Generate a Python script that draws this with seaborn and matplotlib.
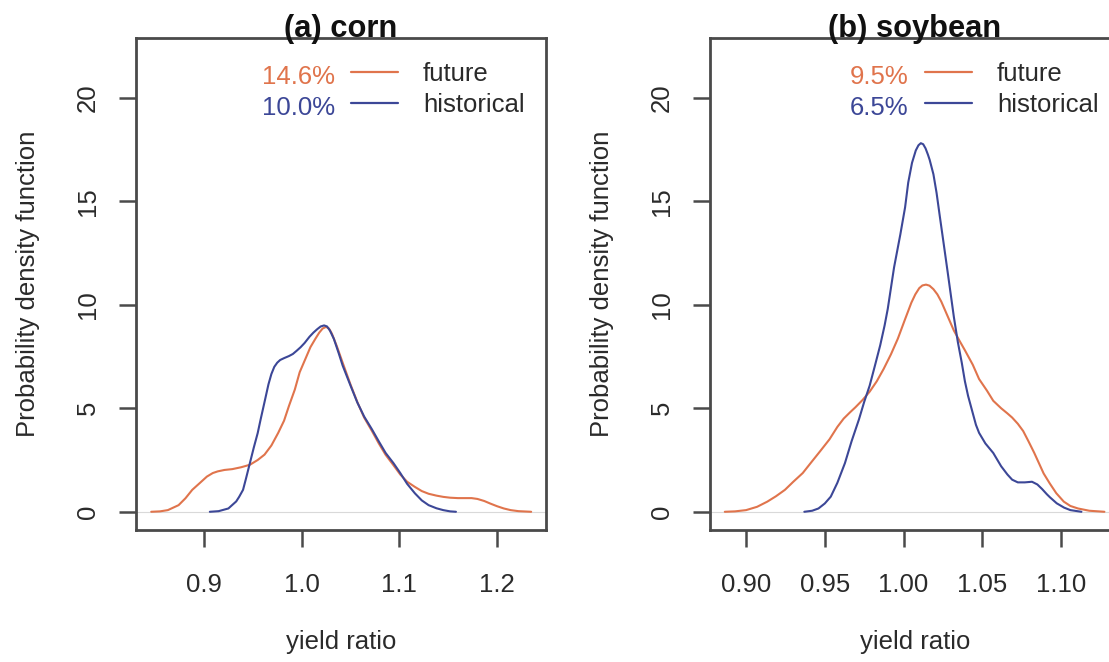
import numpy as np
import pandas as pd
import matplotlib
matplotlib.use("Agg")
import matplotlib.pyplot as plt
from matplotlib.lines import Line2D
import seaborn as sns

# ---------------- data ----------------
titles = ["(a) corn", "(b) soybean"]
series_names = ["future", "historical"]
pct_corn = ["14.6%", "10.0%"]
pct_soy = ["9.5%", "6.5%"]

corn_fut_x = [0.846, 0.855, 0.863, 0.874, 0.881, 0.888, 0.896, 0.903, 0.909, 0.914, 0.921, 0.929,
              0.938, 0.947, 0.955, 0.962, 0.969, 0.976, 0.982, 0.987, 0.993, 0.998, 1.004, 1.009,
              1.014, 1.018, 1.0215, 1.025, 1.028, 1.031, 1.036, 1.042, 1.050, 1.057, 1.064, 1.072,
              1.079, 1.086, 1.094, 1.101, 1.108, 1.116, 1.123, 1.130, 1.138, 1.145, 1.152, 1.160,
              1.167, 1.174, 1.180, 1.187, 1.193, 1.200, 1.207, 1.214, 1.222, 1.235]
corn_fut_y = [0.0, 0.02, 0.08, 0.32, 0.65, 1.06, 1.4, 1.7, 1.87, 1.95, 2.02, 2.06,
              2.15, 2.27, 2.5, 2.76, 3.2, 3.81, 4.4, 5.11, 5.9, 6.74, 7.4, 7.95,
              8.35, 8.65, 8.85, 8.93, 8.85, 8.6, 8.0, 7.2, 6.15, 5.3, 4.55, 3.9,
              3.3, 2.75, 2.25, 1.8, 1.45, 1.2, 1.0, 0.87, 0.78, 0.72, 0.68, 0.66,
              0.66, 0.66, 0.62, 0.52, 0.4, 0.27, 0.16, 0.08, 0.03, 0.0]

corn_hist_x = [0.906, 0.915, 0.925, 0.933, 0.936, 0.940, 0.943, 0.947, 0.951, 0.955, 0.958, 0.962,
               0.966, 0.969, 0.972, 0.975, 0.978, 0.982, 0.987, 0.991, 0.995, 0.999, 1.003, 1.008,
               1.012, 1.016, 1.0195, 1.023, 1.026, 1.029, 1.033, 1.038, 1.042, 1.050, 1.057, 1.064,
               1.072, 1.079, 1.086, 1.094, 1.101, 1.108, 1.116, 1.123, 1.130, 1.138, 1.145, 1.152,
               1.158]
corn_hist_y = [0.0, 0.03, 0.16, 0.5, 0.72, 1.06, 1.6, 2.35, 3.1, 3.8, 4.46, 5.3,
               6.15, 6.65, 7.0, 7.2, 7.33, 7.42, 7.52, 7.62, 7.78, 7.95, 8.15, 8.45,
               8.65, 8.82, 8.95, 9.0, 8.95, 8.75, 8.35, 7.65, 7.06, 6.1, 5.28, 4.6,
               3.98, 3.4, 2.84, 2.35, 1.87, 1.35, 0.89, 0.55, 0.32, 0.17, 0.08, 0.02,
               0.0]

soy_fut_x = [0.8865, 0.893, 0.900, 0.907, 0.9135, 0.919, 0.9247, 0.930, 0.936, 0.941, 0.947, 0.953,
             0.958, 0.962, 0.966, 0.9695, 0.974, 0.9785, 0.983, 0.9874, 0.992, 0.9964, 1.001, 1.005,
             1.0075, 1.010, 1.012, 1.0143, 1.0165, 1.019, 1.0215, 1.024, 1.026, 1.028, 1.030, 1.032,
             1.036, 1.039, 1.044, 1.048, 1.053, 1.057, 1.062, 1.066, 1.069, 1.0726, 1.076, 1.0794,
             1.083, 1.086, 1.089, 1.0928, 1.097, 1.1018, 1.106, 1.1108, 1.118, 1.1276]
soy_fut_y = [0.0, 0.02, 0.08, 0.24, 0.49, 0.75, 1.06, 1.45, 1.87, 2.35, 2.92, 3.5,
             4.1, 4.5, 4.8, 5.05, 5.4, 5.8, 6.3, 6.9, 7.6, 8.36, 9.3, 10.1,
             10.5, 10.8, 10.93, 10.97, 10.92, 10.75, 10.5, 10.15, 9.8, 9.45, 9.1, 8.75,
             8.2, 7.8, 7.1, 6.41, 5.85, 5.36, 5.0, 4.75, 4.55, 4.25, 3.9, 3.4,
             2.85, 2.35, 1.85, 1.38, 0.9, 0.49, 0.28, 0.16, 0.05, 0.0]

soy_hist_x = [0.937, 0.942, 0.946, 0.950, 0.9538, 0.958, 0.9628, 0.967, 0.9717, 0.975, 0.9785, 0.982,
              0.9852, 0.988, 0.990, 0.992, 0.994, 0.996, 0.998, 1.001, 1.003, 1.0054, 1.0078, 1.0095,
              1.011, 1.0125, 1.014, 1.0155, 1.0166, 1.019, 1.021, 1.023, 1.0256, 1.028, 1.030, 1.032,
              1.0345, 1.037, 1.039, 1.041, 1.0435, 1.046, 1.048, 1.052, 1.057, 1.062, 1.066, 1.069,
              1.0726, 1.077, 1.0816, 1.085, 1.088, 1.091, 1.093, 1.0973, 1.102, 1.106, 1.113]
soy_hist_y = [0.0, 0.05, 0.16, 0.4, 0.73, 1.4, 2.35, 3.4, 4.46, 5.3, 6.09, 7.1,
              8.04, 9.0, 9.8, 10.8, 11.8, 12.6, 13.4, 14.7, 15.9, 16.85, 17.45, 17.7,
              17.8, 17.75, 17.55, 17.25, 17.0, 16.3, 15.4, 14.3, 12.9, 11.6, 10.5, 9.4,
              8.2, 7.2, 6.3, 5.6, 4.9, 4.2, 3.81, 3.3, 2.84, 2.2, 1.8, 1.55,
              1.42, 1.42, 1.45, 1.32, 1.1, 0.85, 0.7, 0.41, 0.2, 0.08, 0.0]

y_ticks = [0, 5, 10, 15, 20]
corn_xticks = [0.9, 1.0, 1.1, 1.2]
soy_xticks = [0.90, 0.95, 1.00, 1.05, 1.10]
xlabel = "yield ratio"
ylabel = "Probability density function"

colors = {"future": "#E0744C", "historical": "#3C4797"}

# ---------------- style ----------------
sns.set_theme(style="white")
plt.rcParams["font.family"] = ["Liberation Sans", "DejaVu Sans"]
BASE = 18.5
TXT = "#2a2a2a"
EDGE = "#4a4a4a"

fig = plt.figure(figsize=(11.09, 6.62), dpi=100)
W, H = 1109.0, 662.0
ax_w, ax_h = 410 / W, 492 / H
ax_b = (H - 530) / H
axes = [fig.add_axes([136 / W, ax_b, ax_w, ax_h]),
        fig.add_axes([710 / W, ax_b, ax_w, ax_h])]

panels = [
    dict(title=titles[0], fx=corn_fut_x, fy=corn_fut_y, hx=corn_hist_x, hy=corn_hist_y,
         pct=pct_corn, xticks=corn_xticks, xfmt="{:.1f}", xlim=(0.8304, 1.2502)),
    dict(title=titles[1], fx=soy_fut_x, fy=soy_fut_y, hx=soy_hist_x, hy=soy_hist_y,
         pct=pct_soy, xticks=soy_xticks, xfmt="{:.2f}", xlim=(0.8771, 1.1375)),
]

for ax, p in zip(axes, panels):
    df = pd.concat([
        pd.DataFrame({"x": p["fx"], "y": p["fy"], "series": "future"}),
        pd.DataFrame({"x": p["hx"], "y": p["hy"], "series": "historical"}),
    ], ignore_index=True)
    ax.axhline(0, color="#d9d9d9", lw=0.8, zorder=0)
    sns.lineplot(data=df, x="x", y="y", hue="series", palette=colors, sort=False,
                 estimator=None, lw=1.5, legend=False, ax=ax)
    ax.set_xlim(*p["xlim"])
    ax.set_ylim(-0.88, 22.88)
    ax.set_yticks(y_ticks)
    ax.set_yticklabels([str(t) for t in y_ticks], rotation=90, va="center")
    ax.set_xticks(p["xticks"])
    ax.set_xticklabels([p["xfmt"].format(t) for t in p["xticks"]])
    ax.tick_params(axis="both", direction="out", length=12, width=1.8, color=EDGE,
                   labelsize=BASE, labelcolor=TXT, left=True, bottom=True)
    ax.tick_params(axis="x", pad=19)
    ax.tick_params(axis="y", pad=14)
    for s in ax.spines.values():
        s.set_visible(True)
        s.set_color(EDGE)
        s.set_linewidth(2.0)
    ax.set_xlabel(xlabel, fontsize=BASE, color=TXT, labelpad=24)
    ax.set_ylabel(ylabel, fontsize=BASE, color=TXT, labelpad=26)
    ax.set_title(p["title"], fontsize=BASE * 1.2, fontweight="bold", color="#111111", pad=1)

    handles = [Line2D([], [], color=colors[n], lw=1.6) for n in series_names]
    ax.legend(handles, series_names, loc="upper left", bbox_to_anchor=(0.524, 0.952),
              frameon=False, fontsize=BASE, handlelength=1.85, handletextpad=0.95,
              labelspacing=0.28, borderpad=0, borderaxespad=0, labelcolor=TXT)
    for i, (n, t) in enumerate(zip(series_names, p["pct"])):
        ax.text(0.485, 0.921 - i * 0.064, t, transform=ax.transAxes, ha="right", va="center",
                fontsize=BASE, color=colors[n])

fig.savefig("out.png", dpi=100)
